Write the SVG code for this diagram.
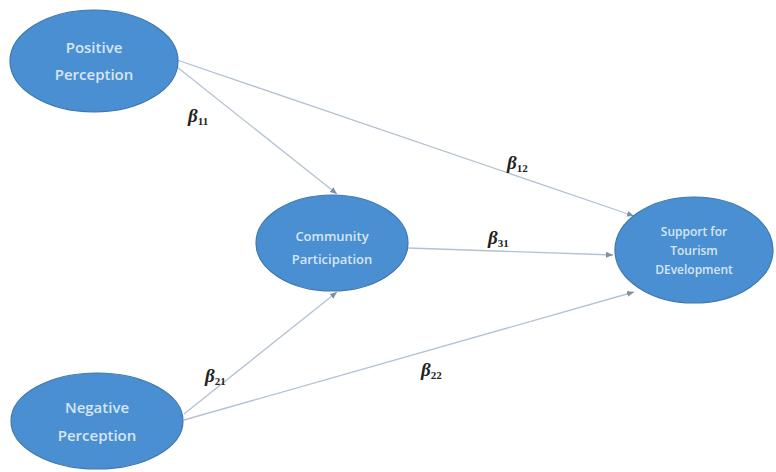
<svg xmlns="http://www.w3.org/2000/svg" width="776" height="472" viewBox="0 0 776 472">
<style>
.node{fill:#4a8fd1;stroke:#3d77ae;stroke-width:1.2}
.t{font-family:"Open Sans","Liberation Sans",sans-serif;font-weight:600;fill:#d6e6f5;text-anchor:middle}
.c{stroke:#b3c2d3;stroke-width:1.3;fill:none;marker-end:url(#ah)}
.b{font-family:"Liberation Serif","DejaVu Serif",serif;font-style:italic;font-weight:bold;font-size:19px;fill:#222}
.s{font-style:normal;font-size:11px}
</style>
<defs>
<marker id="ah" markerWidth="8" markerHeight="8" refX="7" refY="4" orient="auto" markerUnits="userSpaceOnUse">
<path d="M0,1 L7,4 L0,7 Z" fill="#7e90a8"/>
</marker>
</defs>
<rect width="776" height="472" fill="#fff"/>
<g id="connectors">
<line class="c" x1="177" y1="60" x2="634" y2="216"/>
<line class="c" x1="177" y1="67" x2="337" y2="194"/>
<line class="c" x1="408" y1="248" x2="613" y2="255"/>
<line class="c" x1="184" y1="414" x2="337" y2="292"/>
<line class="c" x1="184" y1="420" x2="634" y2="292"/>
</g>
<g id="labels">
<text class="b" x="188" y="122">β<tspan class="s" dy="3">11</tspan></text>
<text class="b" x="507" y="169">β<tspan class="s" dy="3">12</tspan></text>
<text class="b" x="488" y="244">β<tspan class="s" dy="3">31</tspan></text>
<text class="b" x="205" y="382">β<tspan class="s" dy="3">21</tspan></text>
<text class="b" x="421" y="376">β<tspan class="s" dy="3">22</tspan></text>
</g>
<g id="positive">
<ellipse class="node" cx="94" cy="61" rx="84" ry="51"/>
<text class="t" x="94" y="53" font-size="15">Positive</text>
<text class="t" x="94" y="80" font-size="15">Perception</text>
</g>
<g id="community">
<ellipse class="node" cx="332" cy="243" rx="76" ry="48"/>
<text class="t" x="332" y="241" font-size="13">Community</text>
<text class="t" x="332" y="264" font-size="13">Participation</text>
</g>
<g id="support">
<ellipse class="node" cx="694" cy="250" rx="79" ry="53"/>
<text class="t" x="694" y="236" font-size="12">Support for</text>
<text class="t" x="694" y="255" font-size="12">Tourism</text>
<text class="t" x="694" y="274" font-size="12">DEvelopment</text>
</g>
<g id="negative">
<ellipse class="node" cx="97" cy="421" rx="86" ry="48"/>
<text class="t" x="97" y="413" font-size="15">Negative</text>
<text class="t" x="97" y="441" font-size="15">Perception</text>
</g>
</svg>
